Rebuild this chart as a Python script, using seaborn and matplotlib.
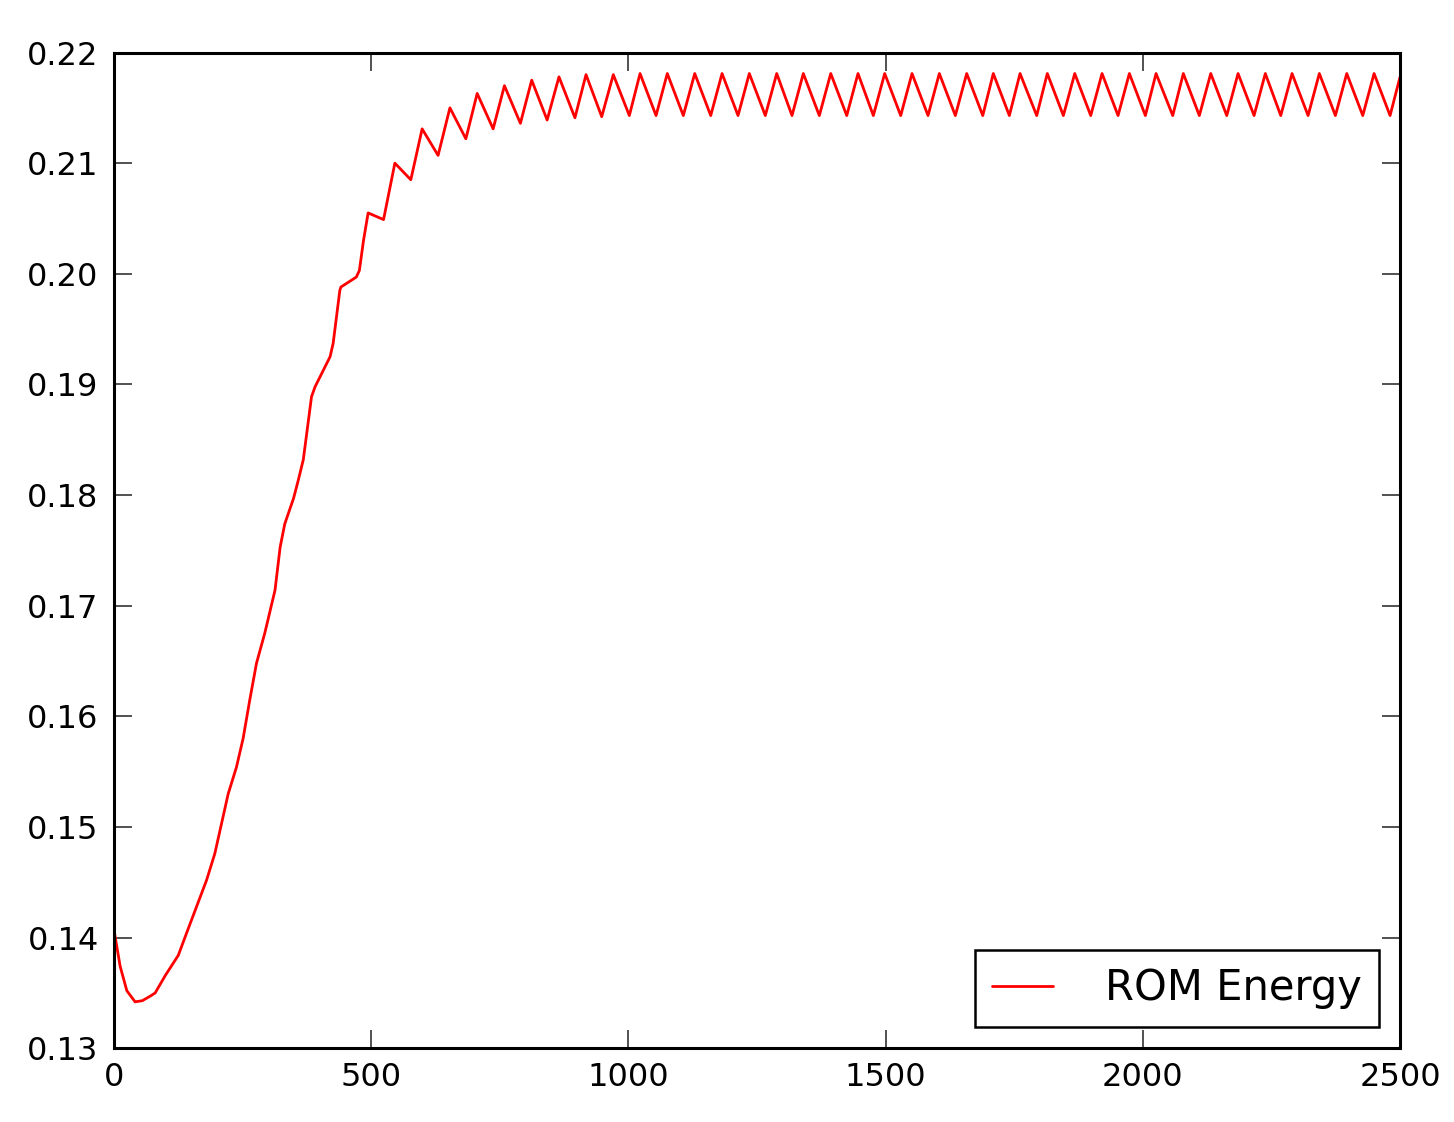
import numpy as np
import pandas as pd
import matplotlib
matplotlib.use("Agg")
import matplotlib.pyplot as plt
import seaborn as sns

# transient part of the energy curve
rise_t = [0, 12, 25, 41, 55, 70, 80, 100, 125, 141, 180, 196, 222, 238, 251,
          264, 277, 293, 313, 323, 332, 349, 358, 368, 384, 391, 420, 426,
          439, 441, 471, 477, 485, 494, 524, 546, 577, 599, 630, 653, 684,
          706, 737, 759, 790, 812, 842, 865, 896]
rise_e = [0.1407, 0.1374, 0.1352, 0.1342, 0.1343, 0.1347, 0.1350, 0.1366,
          0.1384, 0.1404, 0.1452, 0.1476, 0.1530, 0.1554, 0.1580, 0.1615,
          0.1648, 0.1675, 0.1714, 0.1753, 0.1774, 0.1797, 0.1813, 0.1832,
          0.1889, 0.1898, 0.1925, 0.1937, 0.1985, 0.1988, 0.1997, 0.2003,
          0.2030, 0.2055, 0.2049, 0.2100, 0.2085, 0.2131, 0.2107, 0.2150,
          0.2122, 0.2163, 0.2131, 0.2170, 0.2136, 0.2175, 0.2139, 0.2178,
          0.2141]

# steady oscillation: peaks and troughs
peak_t = [917.6, 970.6, 1022.6, 1075.6, 1128.9, 1182.0, 1235.0, 1288.3,
          1340.0, 1393.3, 1446.3, 1498.2, 1551.3, 1604.4, 1657.6, 1709.3,
          1761.3, 1814.3, 1867.6, 1920.7, 1973.8, 2025.7, 2078.7, 2132.0,
          2185.1, 2238.1, 2290.0, 2343.1, 2396.4, 2449.5]
peak_e = [0.2180, 0.2180, 0.2181, 0.2181, 0.2181, 0.2181, 0.2181, 0.2181,
          0.2181, 0.2181, 0.2181, 0.2181, 0.2181, 0.2181, 0.2181, 0.2181,
          0.2181, 0.2181, 0.2181, 0.2181, 0.2181, 0.2181, 0.2181, 0.2181,
          0.2181, 0.2181, 0.2181, 0.2181, 0.2181, 0.2181]
trough_t = [948.1, 1001.8, 1053.7, 1106.7, 1160.0, 1213.1, 1266.1, 1318.0,
            1371.1, 1424.4, 1476.1, 1529.3, 1582.4, 1635.5, 1688.8, 1740.5,
            1793.7, 1845.5, 1898.7, 1951.8, 2004.9, 2058.1, 2109.8, 2163.1,
            2216.2, 2268.1, 2321.2, 2374.3, 2427.5, 2480.6]
trough_e = [0.2142, 0.2143, 0.2143, 0.2143, 0.2143, 0.2143, 0.2143, 0.2143,
            0.2143, 0.2143, 0.2143, 0.2143, 0.2143, 0.2143, 0.2143, 0.2143,
            0.2143, 0.2143, 0.2143, 0.2143, 0.2143, 0.2143, 0.2143, 0.2143,
            0.2143, 0.2143, 0.2143, 0.2143, 0.2143, 0.2143]
end_t = [2500]
end_e = [0.2178]

df = pd.DataFrame({
    "t": rise_t + peak_t + trough_t + end_t,
    "energy": rise_e + peak_e + trough_e + end_e,
}).sort_values("t")

sns.set_theme(style="white")
plt.rcParams.update({
    "font.family": ["DejaVu Sans"],
    "text.color": "black",
    "xtick.direction": "in",
    "ytick.direction": "in",
    "xtick.top": True,
    "xtick.bottom": True,
    "ytick.left": True,
    "ytick.right": True,
    "xtick.major.size": 13,
    "ytick.major.size": 13,
    "xtick.major.width": 1.2,
    "ytick.major.width": 1.2,
    "xtick.color": "#333333",
    "ytick.color": "#333333",
    "xtick.labelcolor": "black",
    "ytick.labelcolor": "black",
    "xtick.major.pad": 10,
    "ytick.major.pad": 11,
})

fig = plt.figure(figsize=(14.54, 11.22), dpi=100)
ax = fig.add_axes([0.0784, 0.0657, 0.8845, 0.8875])

sns.lineplot(data=df, x="t", y="energy", color="red", linewidth=2.0,
             label="ROM Energy", ax=ax, sort=False)

ax.set_xlim(0, 2500)
ax.set_ylim(0.13, 0.22)
ax.set_xticks([0, 500, 1000, 1500, 2000, 2500])
ax.set_yticks(np.arange(0.13, 0.2201, 0.01))
ax.yaxis.set_major_formatter(matplotlib.ticker.FormatStrFormatter("%.2f"))
ax.tick_params(labelsize=23)
ax.set_xlabel("")
ax.set_ylabel("")
for s in ax.spines.values():
    s.set_color("black")
    s.set_linewidth(2.2)

leg = ax.legend(loc="lower right", bbox_to_anchor=(0.9837, 0.0214),
                borderaxespad=0, fontsize=30, frameon=True, fancybox=False,
                handlelength=1.45, handletextpad=1.25, borderpad=0.42,
                framealpha=1)
leg.get_frame().set_edgecolor("black")
leg.get_frame().set_linewidth(1.8)
for txt in leg.get_texts():
    txt.set_color("black")

fig.savefig("out.png", dpi=100)
